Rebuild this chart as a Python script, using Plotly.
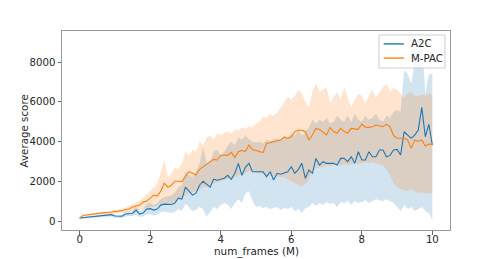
import numpy as np
import plotly.graph_objects as go

frames = np.round(np.arange(101) * 0.1, 1)

a2c_mean = [150,170,180,190,200,220,250,280,300,320,
            250,230,240,350,360,380,550,350,400,600,
            620,550,600,800,850,850,830,900,1150,1100,
            1700,1500,1300,1400,1800,2000,1850,1700,2100,2050,
            2100,2150,2300,2100,2400,2900,2300,2700,2900,2480,
            2480,2480,2480,2230,2480,2060,2400,2350,2400,2480,
            2730,2400,2600,2900,2150,2565,2400,3150,2815,2985,
            2900,2900,2900,2815,3150,3150,2985,3235,2900,3485,
            3070,3070,3485,3235,3235,3570,3570,3235,3300,3570,
            3600,3320,4490,4325,4160,4325,4575,5720,4240,4860,
            3820]
a2c_upper = [190,210,220,230,240,270,300,330,350,370,
             320,300,320,450,450,500,750,500,600,850,
             900,800,900,1100,1200,1250,1300,1450,1700,1800,
             2500,2300,2200,2500,2900,3700,2900,3000,3500,3600,
             3300,3500,3800,4000,3800,4200,4100,4300,4100,4000,
             3950,4000,3900,4100,4000,4100,4150,4100,4300,4200,
             4400,4300,4600,4300,4500,4700,5100,4900,5100,5000,
             5200,4900,5000,5300,5100,5000,5300,5000,5400,5100,
             5000,5300,5100,5200,5400,5100,5000,5300,5200,5500,
             5600,5500,7600,7400,6900,8000,8300,9300,6400,7400,
             7400]
a2c_lower = [100,120,130,140,150,160,180,200,220,230,
             160,150,150,220,230,250,320,200,220,330,
             330,280,320,450,480,450,400,450,600,500,
             850,700,500,550,700,600,200,450,700,600,
             800,900,800,600,900,1100,900,1400,1500,1000,
             700,750,650,700,600,650,700,550,650,600,
             700,500,600,400,650,700,900,750,900,800,
             950,850,900,700,950,900,1000,800,1000,900,
             950,1050,900,1000,1100,1050,1000,1100,1000,900,
             700,500,800,600,700,500,600,700,500,400,
             50]

mpac_mean = [150,280,300,330,350,370,400,420,430,450,
             470,500,520,580,600,700,750,800,950,1000,
             1150,1300,1250,1500,1900,1700,1800,2000,2000,1980,
             2250,2480,2400,2310,2600,2730,2850,3000,3100,3070,
             3300,3320,3300,3450,3200,3490,3550,3500,3820,3600,
             3550,3500,3440,3900,3950,3990,4050,4075,4210,4160,
             4240,4490,4575,4560,4490,4075,4325,4660,4600,4450,
             4330,4710,4500,4410,4660,4500,4420,4660,4640,4610,
             4880,4720,4710,4745,4830,4780,4745,4860,4745,4300,
             4160,4160,4160,4075,3655,4075,4000,4075,3770,3870,
             3855]
mpac_upper = [200,330,350,380,400,420,450,470,490,510,
              550,570,600,680,750,820,900,1000,1200,1350,
              1500,1700,1900,2400,3100,2200,2400,2700,2600,2900,
              3500,3300,3600,3500,4000,3800,4200,4300,4100,4400,
              4300,4450,4500,4400,4600,4550,4700,4650,4750,4700,
              4900,5000,5250,5200,5400,5300,5450,5700,6000,6250,
              6100,6300,6600,6400,6000,5750,6500,6940,6500,6600,
              6760,5920,6250,6500,6100,6760,6200,5750,6100,6420,
              6300,5920,6300,6600,6200,6500,6760,6920,6500,6700,
              6590,6400,6200,6400,6500,6250,6300,6350,6300,6400,
              6340]
mpac_lower = [120,230,250,270,290,300,320,340,350,360,
              370,380,400,420,430,480,520,550,600,650,
              700,720,750,800,850,850,900,1000,1100,1150,
              1300,1400,1450,1500,1600,1700,1700,1800,1900,1950,
              2000,2050,2100,2150,2200,2300,2350,2400,2500,2500,
              2450,2400,2350,2300,2300,2250,2250,2200,2200,2100,
              2000,1900,1800,1750,1850,2100,2500,2650,2700,2700,
              2800,2750,2800,2850,2800,2850,2800,2850,2900,2850,
              2900,2950,2900,2950,2900,2850,2800,2600,2300,1900,
              1700,1600,1550,1500,1600,1500,1400,1450,1400,1400,
              1400]

series_names = ["A2C", "M-PAC"]
x_title = "num_frames (M)"
y_title = "Average score"

BLUE = "#1f77b4"
ORANGE = "#ff7f0e"
TEXT = "#262626"

fig = go.Figure()
fig.add_trace(go.Scatter(x=frames, y=a2c_lower, mode="lines", line=dict(width=0),
                         showlegend=False, hoverinfo="skip"))
fig.add_trace(go.Scatter(x=frames, y=a2c_upper, mode="lines", line=dict(width=0),
                         fill="tonexty", fillcolor="rgba(31,119,180,0.2)",
                         showlegend=False, hoverinfo="skip"))
fig.add_trace(go.Scatter(x=frames, y=mpac_lower, mode="lines", line=dict(width=0),
                         showlegend=False, hoverinfo="skip"))
fig.add_trace(go.Scatter(x=frames, y=mpac_upper, mode="lines", line=dict(width=0),
                         fill="tonexty", fillcolor="rgba(255,127,14,0.2)",
                         showlegend=False, hoverinfo="skip"))
fig.add_trace(go.Scatter(x=frames, y=a2c_mean, mode="lines", name=series_names[0],
                         line=dict(color=BLUE, width=1.1), showlegend=False))
fig.add_trace(go.Scatter(x=frames, y=mpac_mean, mode="lines", name=series_names[1],
                         line=dict(color=ORANGE, width=1.1), showlegend=False))

axis_common = dict(showline=True, linecolor="#999999", linewidth=1, mirror=True,
                   ticks="outside", ticklen=3.5, tickcolor="#666666", tickwidth=1,
                   showgrid=False, zeroline=False, automargin=False,
                   tickfont=dict(family="DejaVu Sans", size=10.2, color=TEXT))

leg_x0, leg_x1, leg_y0, leg_y1 = 0.817, 0.987, 0.814, 0.98
leg_rows = [0.935, 0.864]
leg_colors = [BLUE, ORANGE]
shapes = [dict(type="rect", xref="paper", yref="paper", x0=leg_x0, x1=leg_x1,
               y0=leg_y0, y1=leg_y1, line=dict(color="#cccccc", width=1),
               fillcolor="rgba(255,255,255,0.8)", layer="above")]
annotations = []
for name, yy, col in zip(series_names, leg_rows, leg_colors):
    shapes.append(dict(type="line", xref="paper", yref="paper", x0=0.829, x1=0.881,
                       y0=yy, y1=yy, line=dict(color=col, width=1.4), layer="above"))
    annotations.append(dict(text=name, xref="paper", yref="paper", x=0.894, y=yy,
                            xanchor="left", yanchor="middle", showarrow=False,
                            font=dict(size=10.2, color=TEXT)))
annotations += [
    dict(text=x_title, xref="paper", yref="paper", x=0.5, y=-0.108,
         xanchor="center", yanchor="middle", showarrow=False,
         font=dict(size=10.4, color=TEXT)),
    dict(text=y_title, xref="paper", yref="paper", x=-0.098, y=0.5,
         xanchor="center", yanchor="middle", textangle=-90, showarrow=False,
         font=dict(size=10.3, color=TEXT)),
]

fig.update_layout(
    width=500, height=259,
    margin=dict(l=62, r=50, t=31, b=29),
    paper_bgcolor="white", plot_bgcolor="white",
    font=dict(family="DejaVu Sans", size=10.2, color=TEXT),
    xaxis=dict(range=[-0.5, 10.5], tickvals=[0, 2, 4, 6, 8, 10],
               ticklabelstandoff=-4, **axis_common),
    yaxis=dict(range=[-453, 9560], tickvals=[0, 2000, 4000, 6000, 8000],
               ticklabelstandoff=0, **axis_common),
    showlegend=False,
    shapes=shapes,
    annotations=annotations,
)

fig.write_html("out.html")
